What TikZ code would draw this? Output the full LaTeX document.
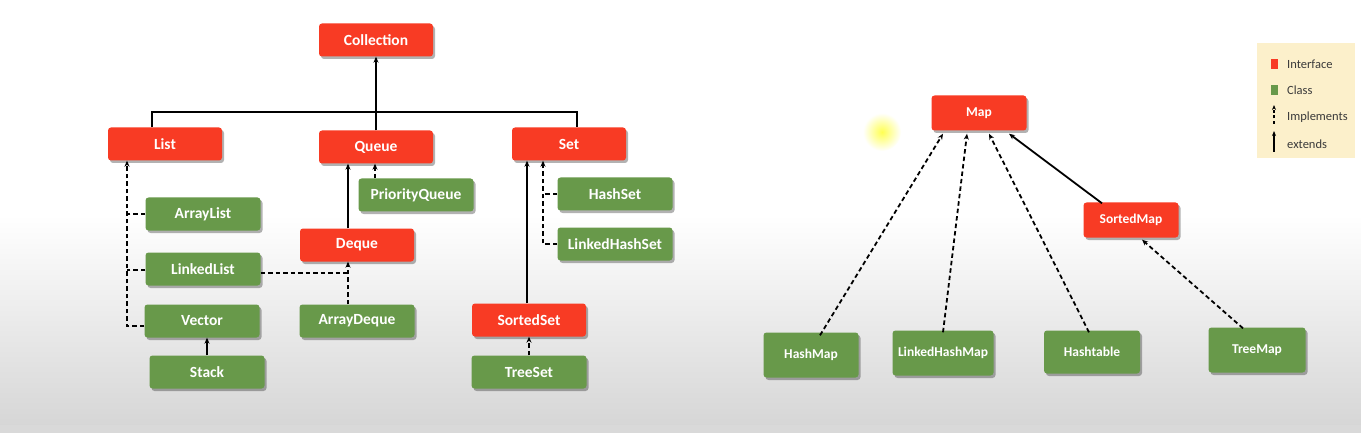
\documentclass[tikz,border=0pt]{standalone}
\usepackage{fontspec}
\setmainfont{Carlito}
\usetikzlibrary{arrows.meta,shadows}
\definecolor{ifred}{HTML}{F83B24}
\definecolor{clgreen}{HTML}{68994A}
\definecolor{legbg}{HTML}{FCF0CB}
\definecolor{legtext}{HTML}{3A3A3A}
\tikzset{
  box/.style={rounded corners=3pt, text=white, inner sep=0pt,
    font=\bfseries\fontsize{15.5}{15.5}\selectfont,
    drop shadow={shadow xshift=2pt, shadow yshift=-2.5pt, opacity=0.3, fill=black}},
  iface/.style={box, fill=ifred, minimum width=114pt, minimum height=33pt},
  cls/.style={box, fill=clgreen, minimum width=115pt, minimum height=33pt},
  mapfont/.style={font=\bfseries\fontsize{13.5}{13.5}\selectfont},
  ext/.style={line width=1.8pt, -{Stealth[length=6pt,width=5pt]}},
  impl/.style={line width=1.8pt, dash pattern=on 4.5pt off 3pt, -{Stealth[length=6pt,width=5pt]}},
  dashline/.style={line width=1.8pt, dash pattern=on 4.5pt off 3pt},
  plain/.style={line width=1.8pt},
  legsq/.style={minimum width=7pt, minimum height=10pt, inner sep=0pt},
  legtxt/.style={anchor=west, text=legtext, inner sep=0pt, font=\fontsize{12.5}{12.5}\selectfont},
}
\begin{document}
\begin{tikzpicture}[x=1pt,y=-1pt]
\useasboundingbox (0,0) rectangle (1361,433);
% background
\fill[white] (0,0) rectangle (1361,433);
\shade[top color=white, bottom color=black!16] (0,215) rectangle (1361,425);
\fill[black!15] (0,425) rectangle (1361,433);
% cursor glow
\shade[inner color=yellow!75!white, outer color=white, opacity=0.9] (882,132) circle (19);

% ---------------- Collection side
\node[iface] (coll) at (376,40) {Collection};
\node[iface] (list) at (165,144) {List};
\node[iface] (queue) at (376,147) {Queue};
\node[iface] (set) at (569,144) {Set};

\node[cls] (arraylist) at (203,214) {ArrayList};
\node[cls] (linkedlist) at (203,269) {LinkedList};
\node[cls] (vector) at (202,321) {Vector};
\node[cls] (stack) at (207,372) {Stack};

\node[cls] (pq) at (416,195) {PriorityQueue};
\node[iface] (deque) at (357,245) {Deque};
\node[cls] (arraydeque) at (357,321) {ArrayDeque};

\node[cls] (hashset) at (615,194) {HashSet};
\node[cls] (linkedhashset) at (615,244) {LinkedHashSet};
\node[iface] (sortedset) at (529,320) {SortedSet};
\node[cls] (treeset) at (529,372) {TreeSet};

% helper x positions
\coordinate (busL) at (152,112);
\coordinate (busR) at (577,112);
\coordinate (lx) at (127,0);
\coordinate (dqx) at (348,0);
\coordinate (pqx) at (375,0);
\coordinate (ssx) at (527,0);
\coordinate (hsx) at (543,0);

% bus to Collection
\draw[plain] (list.north -| busL) -- (busL) -- (busR) -- (set.north -| busR);
\draw[ext] (queue.north) -- (coll.south);

% List implementations
\draw[impl] ([yshift=-5pt]vector.west) -| (list.south -| lx);
\draw[dashline] (arraylist.west) -- (arraylist.west -| lx);
\draw[dashline] ([yshift=-1pt]linkedlist.west) -- ([yshift=-1pt]linkedlist.west -| lx);
\draw[ext] (stack.north) -- (stack.north |- vector.south);

% Queue
\draw[impl] (pq.north -| pqx) -- (queue.south -| pqx);
\draw[ext] (deque.north -| dqx) -- (queue.south -| dqx);
\draw[impl] (arraydeque.north -| dqx) -- (deque.south -| dqx);
\draw[dashline] ([yshift=-4pt]linkedlist.east) -- ([yshift=-4pt]linkedlist.east -| dqx);

% Set
\draw[ext] (sortedset.north -| ssx) -- (set.south -| ssx);
\draw[impl] (linkedhashset.west) -| (set.south -| hsx);
\draw[dashline] (hashset.west) -- (hashset.west -| hsx);
\draw[impl] (treeset.north) -- (sortedset.south);

% ---------------- Map side
\node[iface, mapfont, minimum width=95pt, minimum height=35pt] (map) at (979,113) {Map};
\node[iface, mapfont, minimum width=95pt, minimum height=35pt] (sortedmap) at (1131,220) {SortedMap};
\node[cls, mapfont, minimum width=95pt, minimum height=45pt] (hashmap) at (811,355) {HashMap};
\node[cls, mapfont, minimum width=101pt, minimum height=45pt] (lhm) at (943,353) {LinkedHashMap};
\node[cls, mapfont, minimum width=96pt, minimum height=43pt] (hashtable) at (1092,352) {Hashtable};
\node[cls, mapfont, minimum width=97pt, minimum height=45pt] (treemap) at (1257,350) {TreeMap};

\draw[impl] ([xshift=9pt,yshift=-3pt]hashmap.north) -- ([xshift=-36pt,yshift=-3pt]map.south);
\draw[impl] ([yshift=-2pt]lhm.north) -- ([xshift=-12pt,yshift=-3pt]map.south);
\draw[impl] ([xshift=-3pt,yshift=-2pt]hashtable.north) -- ([xshift=10pt,yshift=-3pt]map.south);
\draw[ext] ([xshift=-29pt,yshift=-1pt]sortedmap.north) -- ([xshift=30pt,yshift=-3pt]map.south);
\draw[impl] ([xshift=-14pt,yshift=-1pt]treemap.north) -- ([xshift=11pt,yshift=-2pt]sortedmap.south);

% ---------------- Legend
\node[fill=legbg, minimum width=98pt, minimum height=115pt, inner sep=0pt] (legend) at (1306,101) {};
\node[legsq, fill=ifred] (lred) at (1274,64) {};
\node[legsq, fill=clgreen] (lgreen) at (1274,90) {};
\node[legtxt] (tif) at (1287,64) {Interface};
\node[legtxt] (tcl) at (1287,90) {Class};
\node[legtxt] (tim) at (1287,117) {Implements};
\node[legtxt] (tex) at (1287,144) {extends};
\coordinate (li0) at (1274,124);
\coordinate (li1) at (1274,105);
\coordinate (le0) at (1274,152);
\coordinate (le1) at (1274,131);
\draw[line width=1.3pt, dash pattern=on 3pt off 2.5pt, -{Stealth[length=5pt,width=4pt]}] (li0) -- (li1);
\draw[line width=1.3pt, -{Stealth[length=5pt,width=4pt]}] (le0) -- (le1);
\end{tikzpicture}
\end{document}
